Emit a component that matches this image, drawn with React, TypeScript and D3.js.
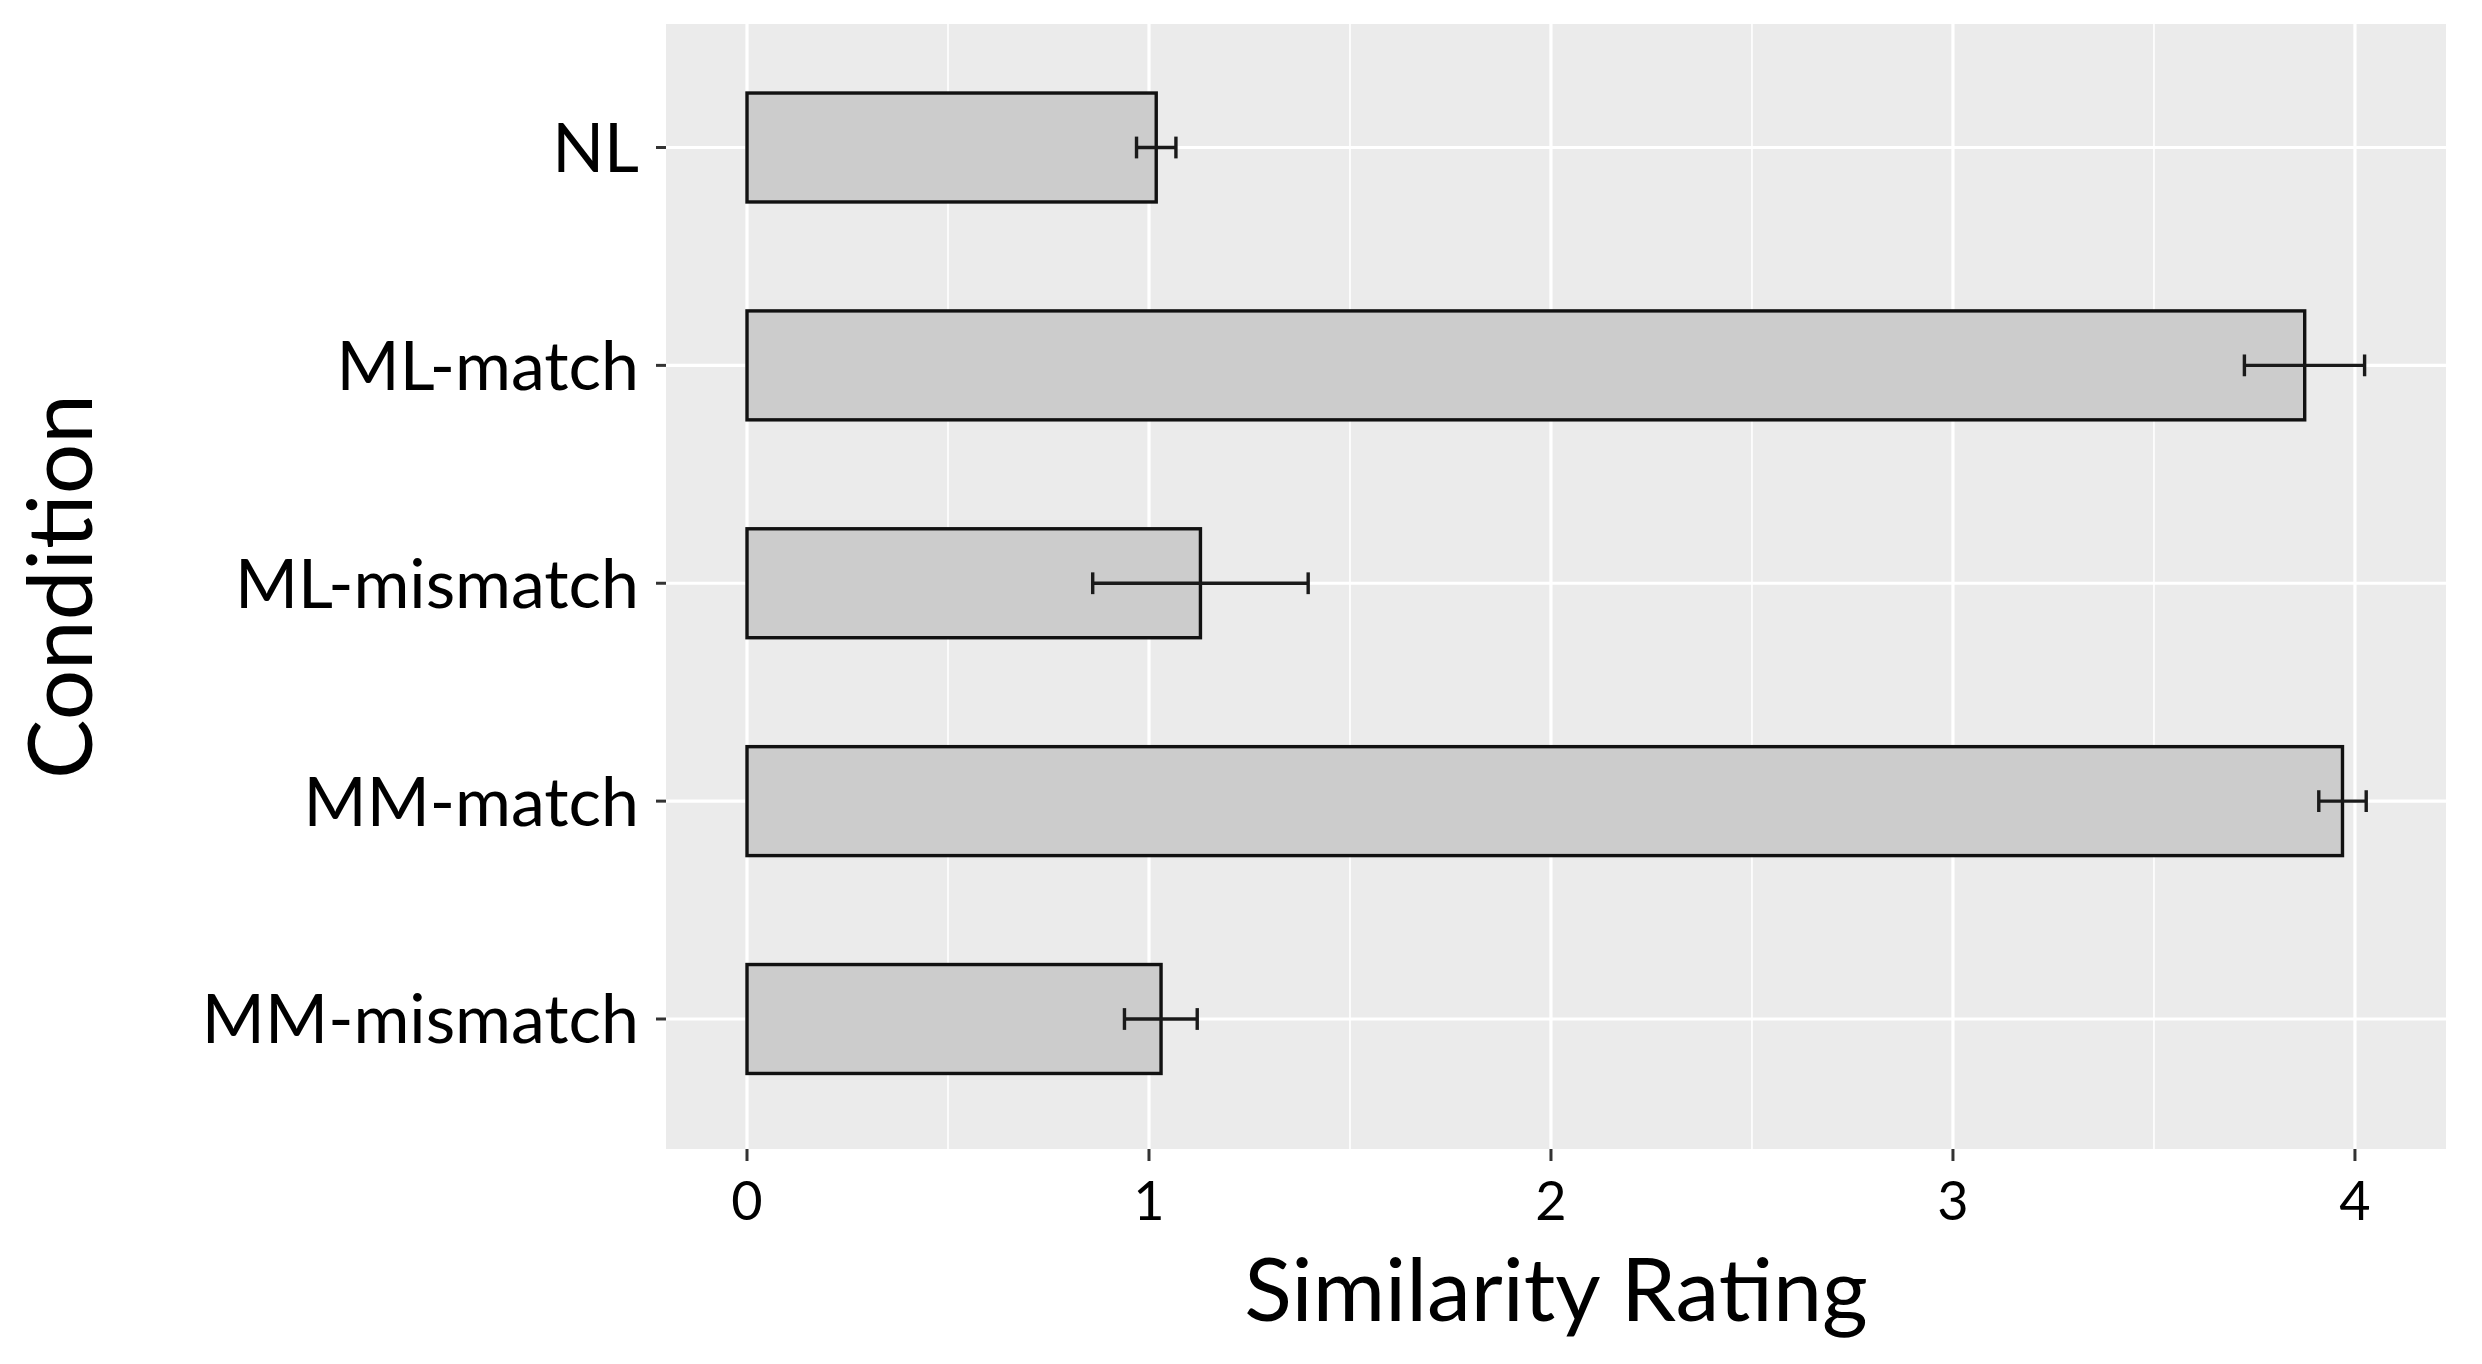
import React from "react";
import * as d3 from "d3";

const categories = ["NL", "ML-match", "ML-mismatch", "MM-match", "MM-mismatch"];
const means = [1.018, 3.875, 1.128, 3.969, 1.03];
const errLow = [0.969, 3.725, 0.86, 3.91, 0.939];
const errHigh = [1.067, 4.024, 1.396, 4.028, 1.12];
const xTicks = [0, 1, 2, 3, 4];
const xMinor = [0.5, 1.5, 2.5, 3.5];
const xTitle = "Similarity Rating";
const yTitle = "Condition";

const W = 2482;
const H = 1364;
const panel = { left: 666, right: 2446, top: 24, bottom: 1149 };
const FONT = "Lato, 'Open Sans', sans-serif";

export default function App() {
  const x = d3.scaleLinear().domain([-0.2015, 4.2265]).range([panel.left, panel.right]);
  const y = d3.scalePoint<string>().domain(categories).range([147.5, 1019]).padding(0);
  const step = y.step();
  const barH = step * 0.5;
  const capH = step * 0.05;

  return (
    <div style={{ position: "absolute", left: 0, top: 0 }}>
      <svg width={W} height={H} style={{ display: "block", background: "#fff" }}>
        <rect
          x={panel.left}
          y={panel.top}
          width={panel.right - panel.left}
          height={panel.bottom - panel.top}
          fill="#EBEBEB"
        />
        {xMinor.map((v) => (
          <line key={"mn" + v} x1={x(v)} x2={x(v)} y1={panel.top} y2={panel.bottom} stroke="#fff" strokeWidth={1.6} />
        ))}
        {xTicks.map((v) => (
          <line key={"mj" + v} x1={x(v)} x2={x(v)} y1={panel.top} y2={panel.bottom} stroke="#fff" strokeWidth={3.2} />
        ))}
        {categories.map((c) => (
          <line key={"hg" + c} x1={panel.left} x2={panel.right} y1={y(c)} y2={y(c)} stroke="#fff" strokeWidth={3.2} />
        ))}
        {categories.map((c, i) => (
          <rect
            key={"bar" + c}
            x={x(0)}
            y={(y(c) as number) - barH / 2}
            width={x(means[i]) - x(0)}
            height={barH}
            fill="#CCCCCC"
            stroke="#111"
            strokeWidth={3.4}
          />
        ))}
        {categories.map((c, i) => {
          const cy = y(c) as number;
          return (
            <g key={"err" + c} stroke="#1a1a1a" strokeWidth={3.4}>
              <line x1={x(errLow[i])} x2={x(errHigh[i])} y1={cy} y2={cy} />
              <line x1={x(errLow[i])} x2={x(errLow[i])} y1={cy - capH} y2={cy + capH} />
              <line x1={x(errHigh[i])} x2={x(errHigh[i])} y1={cy - capH} y2={cy + capH} />
            </g>
          );
        })}
        {categories.map((c) => (
          <g key={"yt" + c}>
            <line x1={panel.left - 10} x2={panel.left} y1={y(c)} y2={y(c)} stroke="#333" strokeWidth={3} />
            <text
              x={panel.left - 27}
              y={y(c)}
              dy="0.36em"
              textAnchor="end"
              fontFamily={FONT}
              fontSize={68}
              fill="#000"
            >
              {c}
            </text>
          </g>
        ))}
        {xTicks.map((v) => (
          <g key={"xt" + v}>
            <line x1={x(v)} x2={x(v)} y1={panel.bottom} y2={panel.bottom + 12} stroke="#333" strokeWidth={3} />
            <text x={x(v)} y={1220} textAnchor="middle" fontFamily={FONT} fontSize={54} fill="#000">
              {v}
            </text>
          </g>
        ))}
        <text
          x={(panel.left + panel.right) / 2}
          y={1321}
          textAnchor="middle"
          fontFamily={FONT}
          fontSize={88}
          fill="#000"
        >
          {xTitle}
        </text>
        <text
          transform={`translate(92, ${(panel.top + panel.bottom) / 2}) rotate(-90)`}
          textAnchor="middle"
          fontFamily={FONT}
          fontSize={89}
          fill="#000"
        >
          {yTitle}
        </text>
      </svg>
    </div>
  );
}
